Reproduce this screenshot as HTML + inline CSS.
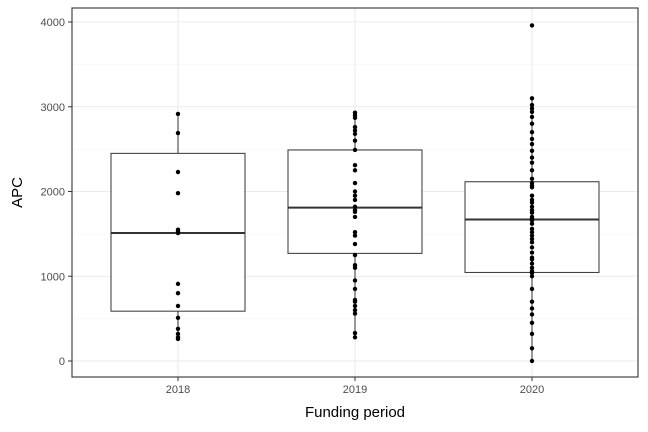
<!DOCTYPE html>
<html><head><meta charset="utf-8"><style>
body{margin:0;background:#fff}
svg{display:block;font-family:"Liberation Sans",Arial,sans-serif}
</style></head><body>
<svg id="chart" width="648" height="432"></svg>
<script>
const categories=["2018","2019","2020"];
const q1=[588,1270,1045];
const medians=[1510,1810,1670];
const q3=[2450,2490,2115];
const whiskLo=[260,280,0];
const whiskHi=[2915,2930,3100];
const points2018=[2915,2690,2230,1980,1550,1530,1510,910,800,650,510,380,320,280,260];
const points2019=[2930,2900,2870,2760,2720,2680,2600,2490,2310,2250,2100,2000,1950,1900,1820,1780,1760,1700,1520,1480,1380,1250,1130,1100,950,850,720,700,650,600,560,330,280];
const points2020=[3960,3100,3020,2980,2940,2880,2800,2700,2620,2560,2480,2400,2340,2250,2150,2100,2070,2050,1950,1900,1870,1820,1780,1750,1700,1680,1660,1620,1560,1520,1480,1440,1400,1340,1280,1220,1200,1150,1100,1060,1040,1000,850,700,620,550,450,320,150,0];
const yTicks=[0,1000,2000,3000,4000];
const allPoints=[points2018,points2019,points2020];

const NS="http://www.w3.org/2000/svg";
const svg=document.getElementById("chart");
const L=72,R=638,T=8,B=377;
const y=v=>361-v*(339/4000);
const x=i=>178+i*177;
function mk(tag,attrs,parent){const e=document.createElementNS(NS,tag);for(const k in attrs)e.setAttribute(k,attrs[k]);(parent||svg).appendChild(e);return e;}

// panel background
const bg=mk("rect",{x:L,y:T,width:R-L,height:B-T,fill:"#fff"});


// minor gridlines
for(let i=0;i<yTicks.length-1;i++){
  const g=mk("line",{x1:L,x2:R,y1:y((yTicks[i]+yTicks[i+1])/2),y2:y((yTicks[i]+yTicks[i+1])/2),stroke:"#f2f2f2","stroke-width":0.6});
  
  
}
yTicks.forEach(t=>{
  const g=mk("line",{x1:L,x2:R,y1:y(t),y2:y(t),stroke:"#ebebeb","stroke-width":1.1});
  
  
  const tk=mk("line",{x1:L-4,x2:L,y1:y(t),y2:y(t),stroke:"#333","stroke-width":1});
  
  
  const lb=mk("text",{x:L-7,y:y(t)+4,"text-anchor":"end","font-size":11,fill:"#4d4d4d"});
  lb.textContent=t;
  
  
});
categories.forEach((c,i)=>{
  const g=mk("line",{x1:x(i),x2:x(i),y1:T,y2:B,stroke:"#ebebeb","stroke-width":1.1});
  
  
});
categories.forEach((c,i)=>{
  const grp=mk("g",{});
  
  
  const hw=67;
  mk("line",{x1:x(i),x2:x(i),y1:y(whiskHi[i]),y2:y(q3[i]),stroke:"#333","stroke-width":1},grp);
  mk("line",{x1:x(i),x2:x(i),y1:y(q1[i]),y2:y(whiskLo[i]),stroke:"#333","stroke-width":1},grp);
  mk("rect",{x:x(i)-hw,y:y(q3[i]),width:2*hw,height:y(q1[i])-y(q3[i]),fill:"#fff",stroke:"#333","stroke-width":1},grp);
  mk("line",{x1:x(i)-hw,x2:x(i)+hw,y1:y(medians[i]),y2:y(medians[i]),stroke:"#333","stroke-width":2},grp);
  allPoints[i].forEach(v=>{
    const p=mk("circle",{cx:x(i),cy:y(v),r:2.2,fill:"#000"});
    
    
  });
  const tk=mk("line",{x1:x(i),x2:x(i),y1:B,y2:B+4,stroke:"#333","stroke-width":1});
  
  
  const lb=mk("text",{x:x(i),y:B+16,"text-anchor":"middle","font-size":11,fill:"#4d4d4d"});
  lb.textContent=c;
  
  
});
const border=mk("rect",{x:L,y:T,width:R-L,height:B-T,fill:"none",stroke:"#333","stroke-width":1.1});


const xt=mk("text",{x:(L+R)/2,y:417,"text-anchor":"middle","font-size":15,fill:"#000"});
xt.textContent="Funding period";


const yt=mk("text",{x:0,y:0,"text-anchor":"middle","font-size":15,fill:"#000",transform:"translate(22,"+((T+B)/2)+") rotate(-90)"});
yt.textContent="APC";


</script>
</body></html>
